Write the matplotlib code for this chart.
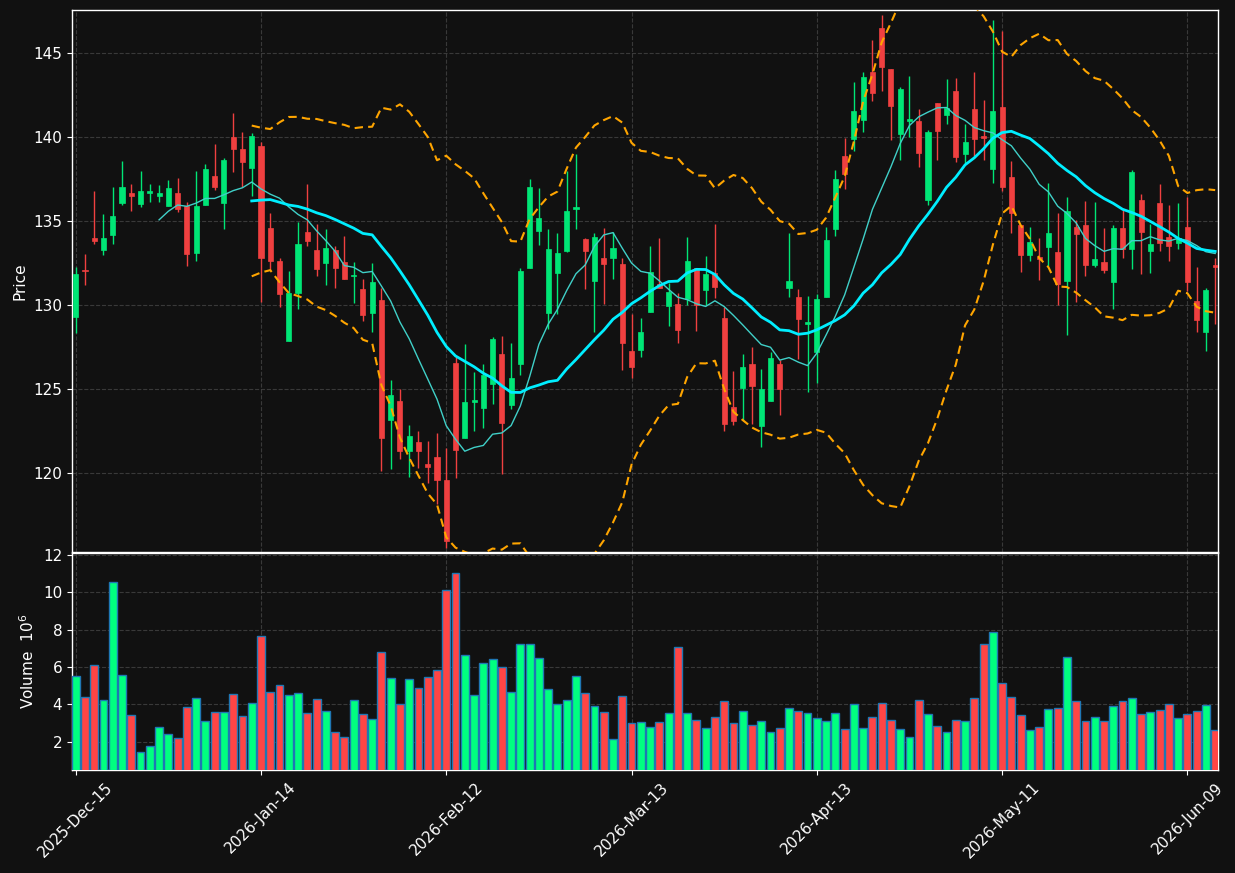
import numpy as np
import pandas as pd
import matplotlib
matplotlib.use("Agg")
import matplotlib.pyplot as plt

# ---------------- data ----------------
opens = [129.27, 132.05, 134.01, 133.27, 134.16, 136.06, 136.64, 135.98, 136.68, 136.47,
         135.87, 136.64, 135.91, 133.08, 135.94, 137.65, 136.06, 140.01, 139.29, 138.15,
         139.47, 134.55, 132.64, 127.84, 130.70, 134.36, 133.25, 132.48, 133.25, 132.58,
         131.71, 130.97, 129.50, 130.27, 123.15, 124.30, 121.28, 121.86, 120.52, 120.97,
         119.61, 126.52, 122.07, 124.24, 123.85, 125.28, 127.10, 124.04, 126.48, 132.19,
         134.38, 129.50, 131.88, 133.20, 135.71, 133.91, 131.40, 132.81, 132.81, 132.46,
         127.28, 127.31, 129.56, 131.25, 129.93, 130.08, 130.33, 132.21, 130.91, 131.92,
         129.25, 123.95, 125.05, 126.46, 122.77, 124.30, 126.46, 130.99, 130.49, 128.86,
         127.18, 130.45, 134.49, 138.89, 139.89, 141.01, 143.88, 146.45, 144.01, 140.14,
         140.94, 140.92, 136.23, 142.00, 141.30, 142.70, 138.98, 141.63, 140.05, 138.07,
         141.75, 137.59, 134.73, 132.96, 132.85, 133.47, 133.12, 131.40, 134.65, 134.78,
         132.36, 132.58, 131.36, 134.55, 133.33, 136.27, 133.20, 136.04, 134.05, 133.67,
         134.61, 130.24, 128.38, 132.36]
highs = [132.27, 133.04, 136.80, 135.42, 137.03, 138.54, 137.20, 137.98, 137.20, 137.16,
         137.45, 137.57, 136.14, 137.98, 138.40, 139.56, 138.75, 141.40, 140.26, 140.20,
         139.72, 135.48, 132.77, 132.02, 134.92, 137.22, 134.80, 134.51, 133.51, 134.11,
         132.54, 131.55, 132.48, 131.03, 125.53, 125.00, 122.86, 122.50, 121.92, 122.38,
         121.51, 126.89, 127.68, 126.02, 126.48, 128.11, 128.17, 127.76, 132.17, 137.51,
         136.97, 134.49, 134.28, 137.94, 138.99, 133.97, 134.28, 134.59, 134.36, 132.81,
         129.44, 129.25, 133.51, 134.01, 131.30, 130.72, 134.05, 132.21, 132.91, 134.82,
         129.89, 126.06, 127.08, 127.51, 126.19, 127.22, 126.73, 134.28, 130.95, 130.53,
         130.64, 134.63, 138.05, 139.95, 143.28, 143.88, 145.79, 147.24, 144.01, 142.99,
         143.65, 141.65, 140.38, 142.00, 143.45, 143.51, 140.76, 143.88, 142.20, 146.97,
         146.30, 138.54, 134.73, 134.65, 134.00, 137.26, 135.48, 136.41, 135.07, 136.16,
         136.10, 134.59, 134.73, 135.69, 138.05, 136.62, 134.80, 137.22, 135.96, 136.04,
         136.41, 132.27, 130.99, 132.77]
lows = [128.34, 131.18, 133.62, 132.98, 133.62, 135.96, 135.58, 135.81, 136.14, 136.14,
        135.87, 135.54, 132.31, 132.62, 135.94, 136.85, 134.51, 137.92, 137.03, 136.49,
        130.20, 132.07, 129.89, 127.84, 129.73, 133.51, 131.73, 131.20, 131.01, 131.53,
        130.14, 129.02, 128.40, 120.12, 120.23, 120.83, 119.77, 120.31, 119.40, 118.16,
        115.51, 119.71, 122.07, 122.50, 122.67, 124.10, 119.96, 123.83, 125.82, 132.19,
        133.58, 128.59, 129.46, 133.14, 134.51, 130.95, 128.40, 130.04, 131.55, 126.13,
        125.67, 126.93, 129.56, 131.00, 128.73, 127.74, 130.00, 128.44, 130.00, 130.41,
        122.50, 122.86, 123.15, 122.90, 121.57, 124.30, 123.46, 130.45, 126.81, 124.82,
        125.36, 130.45, 134.11, 136.91, 139.14, 140.30, 142.14, 142.74, 139.81, 138.63,
        140.00, 138.23, 135.96, 138.63, 140.76, 138.50, 138.44, 138.89, 138.60, 137.28,
        136.80, 134.30, 131.96, 132.64, 131.50, 132.33, 130.00, 128.24, 130.16, 131.73,
        132.27, 131.90, 129.73, 132.79, 132.13, 131.86, 131.92, 133.20, 132.64, 133.31,
        130.82, 128.40, 127.28, 128.86]
closes = [131.82, 132.00, 133.78, 134.01, 135.31, 136.99, 136.47, 136.80, 136.80, 136.64,
          136.93, 135.71, 133.02, 135.91, 138.07, 137.01, 138.65, 139.27, 138.50, 140.05,
          132.81, 132.60, 130.64, 130.72, 133.60, 133.80, 132.13, 133.39, 132.19, 131.53,
          131.80, 129.40, 131.34, 122.07, 124.66, 121.28, 122.21, 121.28, 120.35, 119.57,
          115.96, 121.35, 124.24, 124.30, 125.86, 127.97, 122.96, 125.67, 132.04, 136.99,
          135.15, 133.31, 133.06, 135.56, 135.85, 133.20, 134.07, 132.42, 133.41, 127.72,
          126.31, 128.36, 131.98, 131.03, 130.78, 128.49, 132.64, 129.97, 131.82, 131.07,
          122.90, 123.10, 126.33, 125.15, 124.97, 126.87, 124.99, 131.45, 129.15, 128.98,
          130.33, 133.89, 137.51, 137.78, 141.54, 143.59, 142.60, 144.15, 141.81, 142.83,
          141.07, 139.04, 140.30, 140.34, 141.73, 138.83, 139.72, 139.87, 139.95, 141.52,
          136.99, 135.46, 132.96, 133.72, 132.75, 134.30, 131.24, 135.56, 134.22, 132.36,
          132.71, 132.07, 134.55, 133.33, 137.88, 134.32, 133.60, 133.67, 133.49, 134.01,
          131.36, 129.11, 130.89, 132.27]
volumes = [5.53, 4.39, 6.12, 4.23, 10.54, 5.58, 3.42, 1.42, 1.75, 2.77,
           2.40, 2.18, 3.87, 4.34, 3.10, 3.58, 3.58, 4.55, 3.37, 4.07,
           7.68, 4.66, 5.04, 4.50, 4.61, 3.53, 4.28, 3.64, 2.50, 2.23,
           4.23, 3.47, 3.19, 6.82, 5.42, 4.01, 5.36, 4.88, 5.47, 5.85,
           10.11, 11.03, 6.66, 4.50, 6.23, 6.44, 6.01, 4.66, 7.25, 7.25,
           6.50, 4.82, 4.01, 4.23, 5.53, 4.61, 3.91, 3.58, 2.13, 4.45,
           2.99, 3.04, 2.77, 3.04, 3.53, 7.04, 3.53, 3.15, 2.72, 3.31,
           4.18, 2.99, 3.64, 2.88, 3.10, 2.50, 2.72, 3.80, 3.64, 3.53,
           3.26, 3.10, 3.53, 2.67, 4.01, 2.72, 3.31, 4.07, 3.15, 2.67,
           2.23, 4.23, 3.47, 2.83, 2.50, 3.15, 3.10, 4.34, 7.25, 7.85,
           5.15, 4.39, 3.42, 2.61, 2.77, 3.75, 3.80, 6.55, 4.18, 3.10,
           3.31, 3.10, 3.91, 4.18, 4.34, 3.47, 3.58, 3.69, 4.01, 3.26,
           3.47, 3.64, 3.96, 2.61]

start_date = "2025-12-15"
market_holidays = ["2025-12-25", "2026-01-01", "2026-01-19", "2026-02-16",
                   "2026-04-03", "2026-05-25"]

# ---------------- prep ----------------
o = np.array(opens); h = np.array(highs); l = np.array(lows); c = np.array(closes)
v = np.array(volumes)
n = len(c)
x = np.arange(n)
dates = pd.bdate_range(start=start_date, periods=n, freq="C", holidays=market_holidays)

cs = pd.Series(c)
ma10 = cs.rolling(10).mean()
ma20 = cs.rolling(20).mean()
sd20 = cs.rolling(20).std(ddof=0)
bb_up = ma20 + 2 * sd20
bb_lo = ma20 - 2 * sd20

up = c >= o
UP = "#00e676"
DN = "#f04040"
VUP = "#00ff80"
VDN = "#ff4545"
BG = "#111111"
cols = np.where(up, UP, DN)
vcols = np.where(up, VUP, VDN)

# ---------------- figure ----------------
fig = plt.figure(figsize=(12.35, 8.73), dpi=100, facecolor=BG)
ax = fig.add_axes([0.0583, 0.3677, 0.9279, 0.6209], facecolor=BG)
axv = fig.add_axes([0.0583, 0.118, 0.9279, 0.2486], facecolor=BG, sharex=ax)

grid_kw = dict(color="#444444", linestyle="--", linewidth=0.8, alpha=0.8)

# candles
ax.vlines(x, l, h, colors=cols, linewidth=1.0, zorder=2)
body_bottom = np.minimum(o, c)
body_h = np.maximum(np.abs(c - o), 0.08)
ax.bar(x, body_h, bottom=body_bottom, width=0.55, color=cols, edgecolor=cols,
       linewidth=0.5, zorder=3)

# indicators
ax.plot(x, ma10, color="#40d0c8", linewidth=1.0, zorder=4)
ax.plot(x, ma20, color="#00eeff", linewidth=2.0, zorder=4)
ax.plot(x, bb_up, color="#ffa500", linewidth=1.5, linestyle=(0, (4, 2.5)), zorder=4)
ax.plot(x, bb_lo, color="#ffa500", linewidth=1.5, linestyle=(0, (4, 2.5)), zorder=4)

ax.set_ylim(115.3, 147.55)
ax.set_xlim(-0.4, n - 0.7)
ax.set_yticks([120, 125, 130, 135, 140, 145])
ax.set_ylabel("Price", color="white", fontsize=11)
ax.grid(True, **grid_kw)
ax.set_axisbelow(True)
plt.setp(ax.get_xticklabels(), visible=False)

# volume
axv.bar(x, v, width=0.85, color=vcols, edgecolor="#1f77b4", linewidth=1.0, zorder=3)
axv.set_ylim(0.48, 12.1)
axv.set_yticks([2, 4, 6, 8, 10, 12])
axv.set_ylabel("Volume  $10^{6}$", color="white", fontsize=11)
axv.grid(True, **grid_kw)
axv.set_axisbelow(True)

tick_pos = list(range(0, n, 20))
axv.set_xticks(tick_pos)
axv.set_xticklabels([dates[i].strftime("%Y-%b-%d") for i in tick_pos],
                    rotation=45, ha="center")

for a in (ax, axv):
    a.tick_params(colors="white", labelsize=11)
    for s in a.spines.values():
        s.set_color("white")
        s.set_linewidth(1.0)

fig.savefig("out.png", dpi=100, facecolor=BG)
